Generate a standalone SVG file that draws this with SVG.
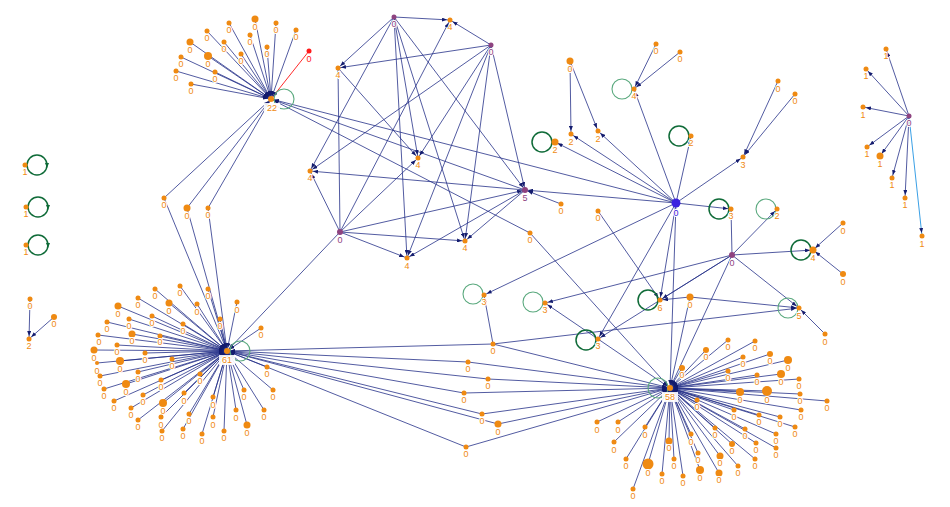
<svg xmlns="http://www.w3.org/2000/svg" width="950" height="507" viewBox="0 0 950 507">
<defs>
<marker id="a" viewBox="0 0 5 4" refX="8" refY="2" markerWidth="5" markerHeight="4" markerUnits="userSpaceOnUse" orient="auto"><path d="M0,0L5,2L0,4z" fill="#141c6e"/></marker>
</defs>
<style>
.e line{stroke:#27328a;stroke-width:1;stroke-opacity:0.8;marker-end:url(#a)}
.e line.r{stroke:#ff2a2a;stroke-opacity:1}
.e line.b{stroke:#3aa0e6;stroke-opacity:1}
.o{fill:#ef8a12}
.p{fill:#8e4380}
.t{font-family:"Liberation Sans",Arial,sans-serif;font-size:9px;text-anchor:middle;fill:#ef8a12;stroke:#fff;stroke-width:2;paint-order:stroke}
.tp{fill:#8e4380}
.tb{fill:#3b22e0}
.lg{fill:none;stroke:#5aa97e;stroke-width:1.1}
.ld{fill:none;stroke:#0f6b38;stroke-width:1.5}
.la{fill:#0f6b38}
.hb{fill:#fff;fill-opacity:0.9}
</style>
<rect width="950" height="507" fill="#fff"/>
<g id="connectors" class="e">
<line x1="229" y1="23" x2="271" y2="99"/><line x1="207" y1="31" x2="271" y2="99"/><line x1="190" y1="42" x2="271" y2="99"/><line x1="224" y1="42" x2="271" y2="99"/><line x1="208" y1="56" x2="271" y2="99"/><line x1="181" y1="57" x2="271" y2="99"/><line x1="215" y1="72" x2="271" y2="99"/><line x1="176" y1="71" x2="271" y2="99"/><line x1="191" y1="84" x2="271" y2="99"/><line x1="255" y1="19" x2="271" y2="99"/><line x1="276" y1="23" x2="271" y2="99"/><line x1="250" y1="35" x2="271" y2="99"/><line x1="296" y1="30" x2="271" y2="99"/><line x1="267" y1="47" x2="271" y2="99"/><line x1="241" y1="54" x2="271" y2="99"/>
<line class="r" x1="309" y1="51" x2="271" y2="99"/>
<line x1="164" y1="198" x2="271" y2="99"/><line x1="187" y1="208" x2="271" y2="99"/><line x1="208" y1="208" x2="271" y2="99"/>
<line x1="676" y1="203" x2="271" y2="99"/><line x1="525" y1="190" x2="271" y2="99"/><line x1="530" y1="233" x2="271" y2="99"/>
<line x1="164" y1="198" x2="227" y2="351"/><line x1="187" y1="208" x2="227" y2="351"/><line x1="208" y1="208" x2="227" y2="351"/><line x1="340" y1="232" x2="227" y2="351"/><line x1="261" y1="328" x2="227" y2="351"/>
<line x1="155" y1="289" x2="227" y2="351"/><line x1="180" y1="286" x2="227" y2="351"/><line x1="138" y1="298" x2="227" y2="351"/><line x1="208" y1="289" x2="227" y2="351"/><line x1="237" y1="302" x2="227" y2="351"/><line x1="118" y1="306" x2="227" y2="351"/><line x1="169" y1="303" x2="227" y2="351"/><line x1="197" y1="304" x2="227" y2="351"/><line x1="129" y1="319" x2="227" y2="351"/><line x1="152" y1="316" x2="227" y2="351"/><line x1="107" y1="322" x2="227" y2="351"/><line x1="183" y1="324" x2="227" y2="351"/><line x1="220" y1="319" x2="227" y2="351"/><line x1="98" y1="335" x2="227" y2="351"/><line x1="132" y1="334" x2="227" y2="351"/><line x1="160" y1="336" x2="227" y2="351"/><line x1="117" y1="345" x2="227" y2="351"/><line x1="94" y1="350" x2="227" y2="351"/><line x1="145" y1="353" x2="227" y2="351"/><line x1="120" y1="361" x2="227" y2="351"/><line x1="97" y1="363" x2="227" y2="351"/><line x1="172" y1="359" x2="227" y2="351"/><line x1="138" y1="372" x2="227" y2="351"/><line x1="100" y1="376" x2="227" y2="351"/><line x1="200" y1="374" x2="227" y2="351"/><line x1="161" y1="380" x2="227" y2="351"/><line x1="126" y1="384" x2="227" y2="351"/><line x1="104" y1="389" x2="227" y2="351"/><line x1="184" y1="393" x2="227" y2="351"/><line x1="143" y1="395" x2="227" y2="351"/><line x1="213" y1="397" x2="227" y2="351"/><line x1="114" y1="401" x2="227" y2="351"/><line x1="163" y1="403" x2="227" y2="351"/><line x1="131" y1="408" x2="227" y2="351"/><line x1="236" y1="410" x2="227" y2="351"/><line x1="161" y1="417" x2="227" y2="351"/><line x1="189" y1="414" x2="227" y2="351"/><line x1="213" y1="417" x2="227" y2="351"/><line x1="138" y1="420" x2="227" y2="351"/><line x1="183" y1="429" x2="227" y2="351"/><line x1="162" y1="431" x2="227" y2="351"/><line x1="202" y1="434" x2="227" y2="351"/><line x1="224" y1="431" x2="227" y2="351"/><line x1="267" y1="367" x2="227" y2="351"/><line x1="273" y1="390" x2="227" y2="351"/><line x1="244" y1="390" x2="227" y2="351"/><line x1="264" y1="410" x2="227" y2="351"/><line x1="247" y1="425" x2="227" y2="351"/>
<line x1="493" y1="344" x2="227" y2="351"/><line x1="468" y1="362" x2="227" y2="351"/><line x1="488" y1="379" x2="227" y2="351"/><line x1="464" y1="393" x2="227" y2="351"/><line x1="482" y1="414" x2="227" y2="351"/><line x1="498" y1="424" x2="227" y2="351"/><line x1="466" y1="447" x2="227" y2="351"/>
<line x1="493" y1="344" x2="670" y2="388"/><line x1="468" y1="362" x2="670" y2="388"/><line x1="488" y1="379" x2="670" y2="388"/><line x1="464" y1="393" x2="670" y2="388"/><line x1="482" y1="414" x2="670" y2="388"/><line x1="498" y1="424" x2="670" y2="388"/><line x1="466" y1="447" x2="670" y2="388"/>
<line x1="676" y1="203" x2="670" y2="388"/><line x1="530" y1="233" x2="670" y2="388"/><line x1="598" y1="339" x2="670" y2="388"/><line x1="690" y1="297" x2="670" y2="388"/><line x1="732" y1="255" x2="670" y2="388"/>
<line x1="706" y1="350" x2="670" y2="388"/><line x1="682" y1="368" x2="670" y2="388"/><line x1="697" y1="400" x2="670" y2="388"/><line x1="597" y1="422" x2="670" y2="388"/><line x1="618" y1="422" x2="670" y2="388"/><line x1="645" y1="427" x2="670" y2="388"/><line x1="614" y1="442" x2="670" y2="388"/><line x1="669" y1="441" x2="670" y2="388"/><line x1="691" y1="434" x2="670" y2="388"/><line x1="698" y1="453" x2="670" y2="388"/><line x1="626" y1="459" x2="670" y2="388"/><line x1="648" y1="464" x2="670" y2="388"/><line x1="674" y1="459" x2="670" y2="388"/><line x1="662" y1="474" x2="670" y2="388"/><line x1="683" y1="476" x2="670" y2="388"/><line x1="700" y1="470" x2="670" y2="388"/><line x1="633" y1="489" x2="670" y2="388"/>
<line x1="728" y1="340" x2="670" y2="388"/><line x1="755" y1="341" x2="670" y2="388"/><line x1="743" y1="357" x2="670" y2="388"/><line x1="770" y1="354" x2="670" y2="388"/><line x1="788" y1="360" x2="670" y2="388"/><line x1="728" y1="371" x2="670" y2="388"/><line x1="757" y1="375" x2="670" y2="388"/><line x1="781" y1="374" x2="670" y2="388"/><line x1="799" y1="379" x2="670" y2="388"/><line x1="740" y1="392" x2="670" y2="388"/><line x1="767" y1="391" x2="670" y2="388"/><line x1="800" y1="394" x2="670" y2="388"/><line x1="827" y1="401" x2="670" y2="388"/><line x1="801" y1="410" x2="670" y2="388"/><line x1="734" y1="410" x2="670" y2="388"/><line x1="759" y1="415" x2="670" y2="388"/><line x1="780" y1="417" x2="670" y2="388"/><line x1="795" y1="427" x2="670" y2="388"/><line x1="715" y1="428" x2="670" y2="388"/><line x1="745" y1="429" x2="670" y2="388"/><line x1="776" y1="434" x2="670" y2="388"/><line x1="756" y1="443" x2="670" y2="388"/><line x1="776" y1="448" x2="670" y2="388"/><line x1="732" y1="444" x2="670" y2="388"/><line x1="720" y1="456" x2="670" y2="388"/><line x1="755" y1="459" x2="670" y2="388"/><line x1="738" y1="466" x2="670" y2="388"/><line x1="719" y1="473" x2="670" y2="388"/>
<line x1="394" y1="17" x2="450" y2="20"/><line x1="394" y1="17" x2="310" y2="171"/><line x1="394" y1="17" x2="418" y2="158"/><line x1="394" y1="17" x2="407" y2="258"/><line x1="394" y1="17" x2="465" y2="241"/><line x1="394" y1="17" x2="525" y2="190"/><line x1="394" y1="17" x2="338" y2="68"/>
<line x1="491" y1="45" x2="450" y2="20"/><line x1="491" y1="45" x2="338" y2="68"/><line x1="491" y1="45" x2="310" y2="171"/><line x1="491" y1="45" x2="418" y2="158"/><line x1="491" y1="45" x2="407" y2="258"/><line x1="491" y1="45" x2="465" y2="241"/><line x1="491" y1="45" x2="525" y2="190"/>
<line x1="340" y1="232" x2="450" y2="20"/><line x1="340" y1="232" x2="338" y2="68"/><line x1="340" y1="232" x2="310" y2="171"/><line x1="340" y1="232" x2="418" y2="158"/><line x1="340" y1="232" x2="407" y2="258"/><line x1="340" y1="232" x2="465" y2="241"/><line x1="340" y1="232" x2="525" y2="190"/>
<line x1="525" y1="190" x2="310" y2="171"/><line x1="525" y1="190" x2="407" y2="258"/><line x1="525" y1="190" x2="465" y2="241"/><line x1="338" y1="68" x2="418" y2="158"/>
<line x1="561" y1="204" x2="525" y2="190"/><line x1="676" y1="203" x2="525" y2="190"/>
<line x1="676" y1="203" x2="555" y2="142"/><line x1="676" y1="203" x2="571" y2="134"/><line x1="676" y1="203" x2="598" y2="131"/><line x1="676" y1="203" x2="634" y2="89"/><line x1="676" y1="203" x2="691" y2="136"/><line x1="676" y1="203" x2="743" y2="157"/><line x1="676" y1="203" x2="731" y2="209"/><line x1="676" y1="203" x2="660" y2="300"/><line x1="676" y1="203" x2="484" y2="295"/><line x1="676" y1="203" x2="598" y2="339"/>
<line x1="570" y1="61" x2="571" y2="134"/><line x1="570" y1="61" x2="598" y2="131"/>
<line x1="656" y1="44" x2="634" y2="89"/><line x1="680" y1="52" x2="634" y2="89"/>
<line x1="778" y1="81" x2="743" y2="157"/><line x1="795" y1="94" x2="743" y2="157"/>
<line x1="732" y1="255" x2="731" y2="209"/><line x1="732" y1="255" x2="777" y2="209"/><line x1="732" y1="255" x2="813" y2="250"/><line x1="732" y1="255" x2="799" y2="308"/><line x1="732" y1="255" x2="660" y2="300"/><line x1="732" y1="255" x2="545" y2="303"/><line x1="732" y1="255" x2="598" y2="339"/>
<line x1="843" y1="223" x2="813" y2="250"/><line x1="843" y1="274" x2="813" y2="250"/><line x1="825" y1="334" x2="799" y2="308"/>
<line x1="690" y1="297" x2="660" y2="300"/><line x1="690" y1="297" x2="799" y2="308"/><line x1="493" y1="344" x2="799" y2="308"/><line x1="493" y1="344" x2="484" y2="295"/>
<line x1="598" y1="211" x2="660" y2="300"/><line x1="598" y1="339" x2="545" y2="303"/>
<line x1="909" y1="116" x2="886" y2="49"/><line x1="909" y1="116" x2="866" y2="69"/><line x1="909" y1="116" x2="863" y2="107"/><line x1="909" y1="116" x2="867" y2="147"/><line x1="909" y1="116" x2="880" y2="156"/><line x1="909" y1="116" x2="892" y2="178"/><line x1="909" y1="116" x2="905" y2="198"/><line class="b" x1="909" y1="116" x2="922" y2="236"/>
<line x1="30" y1="299" x2="29" y2="339"/><line x1="54" y1="317" x2="29" y2="339"/>
</g>
<g id="loops">
<circle class="lg" cx="284" cy="99" r="10"/><circle class="lg" cx="240" cy="351" r="10"/><circle class="lg" cx="658" cy="388" r="10"/>
<circle class="ld" cx="37" cy="165" r="10"/><polygon class="la" points="45,163 49,163 47,168"/>
<circle class="ld" cx="38" cy="207" r="10"/><polygon class="la" points="46,205 50,205 48,210"/>
<circle class="ld" cx="38" cy="245" r="10"/><polygon class="la" points="46,243 50,243 48,248"/>
<circle class="ld" cx="542" cy="142" r="10" stroke-width="2"/>
<circle class="lg" cx="622" cy="89" r="10"/>
<circle class="ld" cx="679" cy="136" r="10" stroke-width="1.2"/>
<circle class="ld" cx="719" cy="209" r="10"/>
<circle class="lg" cx="766" cy="209" r="10"/>
<circle class="ld" cx="801" cy="250" r="10"/>
<circle class="lg" cx="788" cy="308" r="10"/>
<circle class="ld" cx="648" cy="300" r="10"/>
<circle class="lg" cx="473" cy="294" r="10"/>
<circle class="lg" cx="533" cy="302" r="10"/>
<circle class="ld" cx="586" cy="340" r="10" stroke-width="1.2"/>
</g>
<g id="hubs">
<g id="h22"><circle class="o" cx="271" cy="99" r="3"/><rect class="hb" x="264" y="103" width="16" height="10"/><text class="t" x="272" y="111">22</text></g>
<g id="h61"><circle class="o" cx="227" cy="351" r="3"/><rect class="hb" x="219" y="355" width="16" height="10"/><text class="t" x="227" y="363">61</text></g>
<g id="h58"><circle class="o" cx="670" cy="388" r="3"/><rect class="hb" x="662" y="392" width="16" height="10"/><text class="t" x="670" y="400">58</text></g>
</g>
<g id="octagon">
<g id="t0"><circle class="p" cx="394" cy="17" r="2.5"/><text class="t tp" x="394" y="27">0</text></g>
<g id="a4"><circle class="o" cx="450" cy="20" r="2.5"/><text class="t" x="450" y="30">4</text></g>
<g id="r0"><circle class="p" cx="491" cy="45" r="2.5"/><text class="t tp" x="491" y="55">0</text></g>
<g id="b4"><circle class="o" cx="338" cy="68" r="2.5"/><text class="t" x="338" y="78">4</text></g>
<g id="c4"><circle class="o" cx="418" cy="158" r="2.5"/><text class="t" x="418" y="168">4</text></g>
<g id="d4"><circle class="o" cx="310" cy="171" r="2.5"/><text class="t" x="310" y="181">4</text></g>
<g id="l0"><circle class="p" cx="340" cy="232" r="3"/><text class="t tp" x="340" y="243">0</text></g>
<g id="e4"><circle class="o" cx="407" cy="258" r="2.5"/><text class="t" x="407" y="269">4</text></g>
<g id="f4"><circle class="o" cx="465" cy="241" r="2.5"/><text class="t" x="465" y="251">4</text></g>
<g id="p5"><circle class="p" cx="525" cy="190" r="3"/><text class="t tp" x="525" y="201">5</text></g>
</g>
<g id="mid">
<g id="n561"><circle class="o" cx="561" cy="204" r="2.5"/><text class="t" x="561" y="214">0</text></g>
<g id="n598a"><circle class="o" cx="598" cy="211" r="2.5"/><text class="t" x="598" y="221">0</text></g>
<g id="n530"><circle class="o" cx="530" cy="233" r="2.5"/><text class="t" x="530" y="243">0</text></g>
<g id="b0"><circle fill="#3b22e0" cx="676" cy="203" r="4.5"/><text class="t tb" x="676" y="216">0</text></g>
<g id="n570"><circle class="o" cx="570" cy="61" r="3.5"/><text class="t" x="570" y="72">0</text></g>
<g id="n571"><circle class="o" cx="571" cy="134" r="2.5"/><text class="t" x="571" y="145">2</text></g>
<g id="n598b"><circle class="o" cx="598" cy="131" r="2.5"/><text class="t" x="598" y="142">2</text></g>
<g id="n555"><circle class="o" cx="555" cy="142" r="3.5"/><text class="t" x="555" y="153">2</text></g>
<g id="n656"><circle class="o" cx="656" cy="44" r="2.5"/><text class="t" x="656" y="54">0</text></g>
<g id="n680"><circle class="o" cx="680" cy="52" r="2.5"/><text class="t" x="680" y="62">0</text></g>
<g id="n634"><circle class="o" cx="634" cy="89" r="2.5"/><text class="t" x="634" y="99">4</text></g>
<g id="n691"><circle class="o" cx="691" cy="136" r="2.5"/><text class="t" x="691" y="146">2</text></g>
<g id="n743"><circle class="o" cx="743" cy="157" r="2.5"/><text class="t" x="743" y="168">3</text></g>
<g id="n778"><circle class="o" cx="778" cy="81" r="2.5"/><text class="t" x="778" y="92">0</text></g>
<g id="n795"><circle class="o" cx="795" cy="94" r="2.5"/><text class="t" x="795" y="104">0</text></g>
<g id="n731"><circle class="o" cx="731" cy="209" r="2.5"/><text class="t" x="731" y="219">3</text></g>
<g id="n777"><circle class="o" cx="777" cy="209" r="2.5"/><text class="t" x="777" y="219">2</text></g>
<g id="p0mid"><circle class="p" cx="732" cy="255" r="3"/><text class="t tp" x="732" y="266">0</text></g>
<g id="n813"><circle class="o" cx="813" cy="250" r="3.5"/><text class="t" x="813" y="261">4</text></g>
<g id="n843a"><circle class="o" cx="843" cy="223" r="2.5"/><text class="t" x="843" y="234">0</text></g>
<g id="n843b"><circle class="o" cx="843" cy="274" r="3"/><text class="t" x="843" y="285">0</text></g>
<g id="n799"><circle class="o" cx="799" cy="308" r="2.5"/><text class="t" x="799" y="319">5</text></g>
<g id="n825"><circle class="o" cx="825" cy="334" r="2.5"/><text class="t" x="825" y="345">0</text></g>
<g id="n660"><circle class="o" cx="660" cy="300" r="2.5"/><text class="t" x="660" y="311">6</text></g>
<g id="n690"><circle class="o" cx="690" cy="297" r="3.5"/><text class="t" x="690" y="308">0</text></g>
<g id="n484"><circle class="o" cx="484" cy="295" r="2.5"/><text class="t" x="484" y="305">3</text></g>
<g id="n545"><circle class="o" cx="545" cy="303" r="2.5"/><text class="t" x="545" y="313">3</text></g>
<g id="n598c"><circle class="o" cx="598" cy="339" r="2.5"/><text class="t" x="598" y="349">3</text></g>
<g id="n493"><circle class="o" cx="493" cy="344" r="2.5"/><text class="t" x="493" y="354">0</text></g>
<g id="n468"><circle class="o" cx="468" cy="362" r="2.5"/><text class="t" x="468" y="372">0</text></g>
<g id="n488"><circle class="o" cx="488" cy="379" r="2.5"/><text class="t" x="488" y="389">0</text></g>
<g id="n464"><circle class="o" cx="464" cy="393" r="2.5"/><text class="t" x="464" y="403">0</text></g>
<g id="n482"><circle class="o" cx="482" cy="414" r="2.5"/><text class="t" x="482" y="424">0</text></g>
<g id="n498"><circle class="o" cx="498" cy="424" r="3.5"/><text class="t" x="498" y="435">0</text></g>
<g id="n466"><circle class="o" cx="466" cy="447" r="2.5"/><text class="t" x="466" y="457">0</text></g>
</g>
<g id="right">
<g id="p0far"><circle class="p" cx="909" cy="116" r="2.5"/><text class="t tp" x="909" y="126">0</text></g>
<g id="r1"><circle class="o" cx="886" cy="49" r="2.5"/><text class="t" x="886" y="59">1</text></g>
<g id="r2"><circle class="o" cx="866" cy="69" r="2.5"/><text class="t" x="866" y="79">1</text></g>
<g id="r3"><circle class="o" cx="863" cy="107" r="2.5"/><text class="t" x="863" y="118">1</text></g>
<g id="r4"><circle class="o" cx="867" cy="147" r="2.5"/><text class="t" x="867" y="157">1</text></g>
<g id="r5"><circle class="o" cx="880" cy="156" r="3.5"/><text class="t" x="880" y="167">1</text></g>
<g id="r6"><circle class="o" cx="892" cy="178" r="2.5"/><text class="t" x="892" y="188">1</text></g>
<g id="r7"><circle class="o" cx="905" cy="198" r="2.5"/><text class="t" x="905" y="208">1</text></g>
<g id="r8"><circle class="o" cx="922" cy="236" r="2.5"/><text class="t" x="922" y="247">1</text></g>
</g>
<g id="left">
<g id="s1"><circle class="o" cx="25" cy="165" r="2.5"/><text class="t" x="25" y="175">1</text></g>
<g id="s2"><circle class="o" cx="26" cy="207" r="2.5"/><text class="t" x="26" y="217">1</text></g>
<g id="s3"><circle class="o" cx="26" cy="245" r="2.5"/><text class="t" x="26" y="255">1</text></g>
<g id="s4"><circle class="o" cx="30" cy="299" r="2.5"/><text class="t" x="30" y="309">0</text></g>
<g id="s5"><circle class="o" cx="54" cy="317" r="3"/><text class="t" x="54" y="327">0</text></g>
<g id="s6"><circle class="o" cx="29" cy="339" r="2.5"/><text class="t" x="29" y="349">2</text></g>
</g>
<g id="leaves22">
<g><circle class="o" cx="229" cy="23" r="2.5"/><text class="t" x="229" y="33">0</text></g>
<g><circle class="o" cx="207" cy="31" r="2.5"/><text class="t" x="207" y="41">0</text></g>
<g><circle class="o" cx="190" cy="42" r="3.5"/><text class="t" x="190" y="53">0</text></g>
<g><circle class="o" cx="224" cy="42" r="2.5"/><text class="t" x="224" y="52">0</text></g>
<g><circle class="o" cx="208" cy="56" r="4"/><text class="t" x="208" y="67">0</text></g>
<g><circle class="o" cx="181" cy="57" r="2.5"/><text class="t" x="181" y="67">0</text></g>
<g><circle class="o" cx="215" cy="72" r="2.5"/><text class="t" x="215" y="82">0</text></g>
<g><circle class="o" cx="176" cy="71" r="2.5"/><text class="t" x="176" y="81">0</text></g>
<g><circle class="o" cx="191" cy="84" r="2.5"/><text class="t" x="191" y="94">0</text></g>
<g><circle class="o" cx="255" cy="19" r="3.5"/><text class="t" x="255" y="30">0</text></g>
<g><circle class="o" cx="276" cy="23" r="2.5"/><text class="t" x="276" y="33">0</text></g>
<g><circle class="o" cx="250" cy="35" r="2.5"/><text class="t" x="250" y="45">0</text></g>
<g><circle class="o" cx="296" cy="30" r="2.5"/><text class="t" x="296" y="40">0</text></g>
<g><circle class="o" cx="267" cy="47" r="2.5"/><text class="t" x="267" y="57">0</text></g>
<g><circle class="o" cx="241" cy="54" r="2.5"/><text class="t" x="241" y="64">0</text></g>
<g><circle fill="#ff1a1a" cx="309" cy="51" r="2.5"/><text class="t" style="fill:#ff1a1a" x="309" y="62">0</text></g>
<g><circle class="o" cx="164" cy="198" r="2.5"/><text class="t" x="164" y="208">0</text></g>
<g><circle class="o" cx="187" cy="208" r="3.5"/><text class="t" x="187" y="219">0</text></g>
<g><circle class="o" cx="208" cy="208" r="2.5"/><text class="t" x="208" y="218">0</text></g>
<g><circle class="o" cx="261" cy="328" r="2.5"/><text class="t" x="261" y="338">0</text></g>
</g>
<g id="leaves61">
<g><circle class="o" cx="155" cy="289" r="2.5"/><text class="t" x="155" y="299">0</text></g>
<g><circle class="o" cx="180" cy="286" r="2.5"/><text class="t" x="180" y="296">0</text></g>
<g><circle class="o" cx="138" cy="298" r="2.5"/><text class="t" x="138" y="308">0</text></g>
<g><circle class="o" cx="208" cy="289" r="2.5"/><text class="t" x="208" y="299">0</text></g>
<g><circle class="o" cx="237" cy="302" r="2.5"/><text class="t" x="237" y="313">0</text></g>
<g><circle class="o" cx="118" cy="306" r="3.5"/><text class="t" x="118" y="317">0</text></g>
<g><circle class="o" cx="169" cy="303" r="3.5"/><text class="t" x="169" y="314">0</text></g>
<g><circle class="o" cx="197" cy="304" r="2.5"/><text class="t" x="197" y="315">0</text></g>
<g><circle class="o" cx="129" cy="319" r="2.5"/><text class="t" x="129" y="329">0</text></g>
<g><circle class="o" cx="152" cy="316" r="2.5"/><text class="t" x="152" y="326">0</text></g>
<g><circle class="o" cx="107" cy="322" r="2.5"/><text class="t" x="107" y="332">0</text></g>
<g><circle class="o" cx="183" cy="324" r="2.5"/><text class="t" x="183" y="334">0</text></g>
<g><circle class="o" cx="220" cy="319" r="2.5"/><text class="t" x="220" y="329">0</text></g>
<g><circle class="o" cx="98" cy="335" r="2.5"/><text class="t" x="99" y="345">0</text></g>
<g><circle class="o" cx="132" cy="334" r="3.5"/><text class="t" x="132" y="344">0</text></g>
<g><circle class="o" cx="160" cy="336" r="2.5"/><text class="t" x="160" y="345">0</text></g>
<g><circle class="o" cx="117" cy="345" r="2.5"/><text class="t" x="117" y="355">0</text></g>
<g><circle class="o" cx="94" cy="350" r="3.5"/><text class="t" x="94" y="361">0</text></g>
<g><circle class="o" cx="145" cy="353" r="2.5"/><text class="t" x="145" y="363">0</text></g>
<g><circle class="o" cx="120" cy="361" r="4"/><text class="t" x="120" y="372">0</text></g>
<g><circle class="o" cx="97" cy="363" r="2"/><text class="t" x="97" y="374">0</text></g>
<g><circle class="o" cx="172" cy="359" r="2.5"/><text class="t" x="172" y="369">0</text></g>
<g><circle class="o" cx="138" cy="372" r="2.5"/><text class="t" x="138" y="382">0</text></g>
<g><circle class="o" cx="100" cy="376" r="2.5"/><text class="t" x="100" y="386">0</text></g>
<g><circle class="o" cx="200" cy="374" r="2.5"/><text class="t" x="200" y="384">0</text></g>
<g><circle class="o" cx="161" cy="380" r="2.5"/><text class="t" x="161" y="390">0</text></g>
<g><circle class="o" cx="126" cy="384" r="4"/><text class="t" x="126" y="395">0</text></g>
<g><circle class="o" cx="104" cy="389" r="2.5"/><text class="t" x="104" y="399">0</text></g>
<g><circle class="o" cx="184" cy="393" r="2.5"/><text class="t" x="184" y="404">0</text></g>
<g><circle class="o" cx="143" cy="395" r="2.5"/><text class="t" x="143" y="405">0</text></g>
<g><circle class="o" cx="213" cy="397" r="2.5"/><text class="t" x="213" y="408">0</text></g>
<g><circle class="o" cx="114" cy="401" r="2.5"/><text class="t" x="114" y="411">0</text></g>
<g><circle class="o" cx="163" cy="403" r="4"/><text class="t" x="163" y="414">0</text></g>
<g><circle class="o" cx="131" cy="408" r="2.5"/><text class="t" x="131" y="418">0</text></g>
<g><circle class="o" cx="236" cy="410" r="2.5"/><text class="t" x="236" y="421">0</text></g>
<g><circle class="o" cx="161" cy="417" r="2.5"/><text class="t" x="161" y="428">0</text></g>
<g><circle class="o" cx="189" cy="414" r="2.5"/><text class="t" x="189" y="424">0</text></g>
<g><circle class="o" cx="213" cy="417" r="2.5"/><text class="t" x="213" y="428">0</text></g>
<g><circle class="o" cx="138" cy="420" r="2.5"/><text class="t" x="138" y="430">0</text></g>
<g><circle class="o" cx="183" cy="429" r="2.5"/><text class="t" x="183" y="439">0</text></g>
<g><circle class="o" cx="162" cy="431" r="2.5"/><text class="t" x="162" y="441">0</text></g>
<g><circle class="o" cx="202" cy="434" r="2.5"/><text class="t" x="202" y="444">0</text></g>
<g><circle class="o" cx="224" cy="431" r="2.5"/><text class="t" x="224" y="441">0</text></g>
<g><circle class="o" cx="267" cy="367" r="2.5"/><text class="t" x="267" y="377">0</text></g>
<g><circle class="o" cx="273" cy="390" r="2.5"/><text class="t" x="273" y="400">0</text></g>
<g><circle class="o" cx="244" cy="390" r="2.5"/><text class="t" x="244" y="400">0</text></g>
<g><circle class="o" cx="264" cy="410" r="2.5"/><text class="t" x="264" y="420">0</text></g>
<g><circle class="o" cx="247" cy="425" r="3.5"/><text class="t" x="247" y="436">0</text></g>
</g>
<g id="leaves58">
<g><circle class="o" cx="706" cy="350" r="3"/><text class="t" x="706" y="360">0</text></g>
<g><circle class="o" cx="682" cy="368" r="3"/><text class="t" x="682" y="378">0</text></g>
<g><circle class="o" cx="697" cy="400" r="2.5"/><text class="t" x="697" y="410">0</text></g>
<g><circle class="o" cx="597" cy="422" r="2.5"/><text class="t" x="597" y="433">0</text></g>
<g><circle class="o" cx="618" cy="422" r="2.5"/><text class="t" x="618" y="433">0</text></g>
<g><circle class="o" cx="645" cy="427" r="2.5"/><text class="t" x="645" y="438">0</text></g>
<g><circle class="o" cx="614" cy="442" r="2.5"/><text class="t" x="614" y="453">0</text></g>
<g><circle class="o" cx="669" cy="441" r="3.5"/><text class="t" x="669" y="451">0</text></g>
<g><circle class="o" cx="691" cy="434" r="2.5"/><text class="t" x="691" y="445">0</text></g>
<g><circle class="o" cx="698" cy="453" r="2.5"/><text class="t" x="698" y="463">0</text></g>
<g><circle class="o" cx="626" cy="459" r="2.5"/><text class="t" x="626" y="469">0</text></g>
<g><circle class="o" cx="648" cy="464" r="5.5"/><text class="t" x="648" y="476">0</text></g>
<g><circle class="o" cx="674" cy="459" r="2.5"/><text class="t" x="674" y="469">0</text></g>
<g><circle class="o" cx="662" cy="474" r="2.5"/><text class="t" x="662" y="484">0</text></g>
<g><circle class="o" cx="683" cy="476" r="2.5"/><text class="t" x="683" y="486">0</text></g>
<g><circle class="o" cx="700" cy="470" r="4"/><text class="t" x="700" y="481">0</text></g>
<g><circle class="o" cx="633" cy="489" r="2.5"/><text class="t" x="633" y="499">0</text></g>
<g><circle class="o" cx="728" cy="340" r="2.5"/><text class="t" x="728" y="350">0</text></g>
<g><circle class="o" cx="755" cy="341" r="2.5"/><text class="t" x="755" y="351">0</text></g>
<g><circle class="o" cx="743" cy="357" r="2.5"/><text class="t" x="743" y="367">0</text></g>
<g><circle class="o" cx="770" cy="354" r="3"/><text class="t" x="770" y="364">0</text></g>
<g><circle class="o" cx="788" cy="360" r="4"/><text class="t" x="788" y="371">0</text></g>
<g><circle class="o" cx="728" cy="371" r="2.5"/><text class="t" x="728" y="381">0</text></g>
<g><circle class="o" cx="757" cy="375" r="2.5"/><text class="t" x="757" y="385">0</text></g>
<g><circle class="o" cx="781" cy="374" r="4"/><text class="t" x="781" y="385">0</text></g>
<g><circle class="o" cx="799" cy="379" r="2.5"/><text class="t" x="799" y="389">0</text></g>
<g><circle class="o" cx="740" cy="392" r="4"/><text class="t" x="740" y="403">0</text></g>
<g><circle class="o" cx="767" cy="391" r="5"/><text class="t" x="767" y="403">0</text></g>
<g><circle class="o" cx="800" cy="394" r="2.5"/><text class="t" x="800" y="404">0</text></g>
<g><circle class="o" cx="827" cy="401" r="2.5"/><text class="t" x="827" y="411">0</text></g>
<g><circle class="o" cx="801" cy="410" r="2.5"/><text class="t" x="801" y="420">0</text></g>
<g><circle class="o" cx="734" cy="410" r="2.5"/><text class="t" x="734" y="420">0</text></g>
<g><circle class="o" cx="759" cy="415" r="2.5"/><text class="t" x="759" y="425">0</text></g>
<g><circle class="o" cx="780" cy="417" r="2.5"/><text class="t" x="780" y="427">0</text></g>
<g><circle class="o" cx="795" cy="427" r="2.5"/><text class="t" x="795" y="437">0</text></g>
<g><circle class="o" cx="715" cy="428" r="2.5"/><text class="t" x="715" y="438">0</text></g>
<g><circle class="o" cx="745" cy="429" r="2.5"/><text class="t" x="745" y="439">0</text></g>
<g><circle class="o" cx="776" cy="434" r="2.5"/><text class="t" x="776" y="444">0</text></g>
<g><circle class="o" cx="756" cy="443" r="2.5"/><text class="t" x="756" y="453">0</text></g>
<g><circle class="o" cx="776" cy="448" r="2.5"/><text class="t" x="776" y="458">0</text></g>
<g><circle class="o" cx="732" cy="444" r="3"/><text class="t" x="732" y="454">0</text></g>
<g><circle class="o" cx="720" cy="456" r="3.5"/><text class="t" x="720" y="466">0</text></g>
<g><circle class="o" cx="755" cy="459" r="2.5"/><text class="t" x="755" y="469">0</text></g>
<g><circle class="o" cx="738" cy="466" r="2.5"/><text class="t" x="738" y="476">0</text></g>
<g><circle class="o" cx="719" cy="473" r="3.5"/><text class="t" x="719" y="483">0</text></g>
</g>
</svg>
